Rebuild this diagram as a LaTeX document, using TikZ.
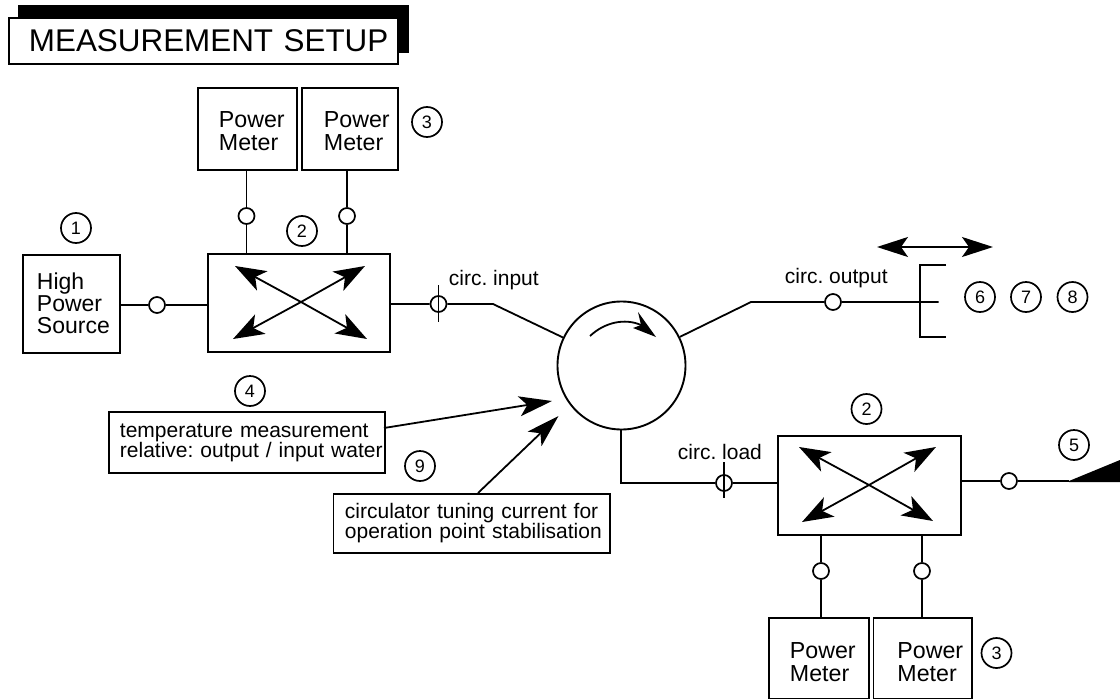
\documentclass[tikz,border=0pt]{standalone}
\usepackage{fontspec}
\setmainfont{Liberation Sans}
\usetikzlibrary{arrows.meta}
\frenchspacing
\tikzset{
  every path/.style={line width=1.8pt},
  mbox/.style={draw=black,line width=1.9pt,fill=white,inner sep=0pt,align=left,anchor=north west},
  pmbox/.style={mbox,font=\fontsize{23.2}{23}\selectfont},
  notebox/.style={mbox,font=\fontsize{21}{20}\selectfont},
  num/.style={circle,draw=black,line width=1.7pt,minimum size=30pt,inner sep=0pt,font=\fontsize{18}{18}\selectfont},
  port/.style={circle,draw=black,line width=1.7pt,fill=white,minimum size=16pt,inner sep=0pt},
  lbl/.style={inner sep=0pt,anchor=west,font=\fontsize{21}{20}\selectfont},
  big/.style={-{Stealth[length=31pt,width=22pt,inset=8pt]}},
  bigboth/.style={{Stealth[length=31pt,width=20pt,inset=7pt]}-{Stealth[length=31pt,width=20pt,inset=7pt]}},
  point/.style={-{Stealth[length=33pt,width=20pt,inset=8pt]}},
}
\newcommand{\pw}[2]{\hspace*{#1pt}\rule{0pt}{#2pt}Power\\\hspace*{#1pt}Meter}
\begin{document}
\begin{tikzpicture}[x=1pt,y=-1pt]
\useasboundingbox (0,0) rectangle (1120,699);
% title
\fill[black] (18,5) rectangle (409,53);
\node[mbox,minimum width=389pt,minimum height=46pt,font=\fontsize{31.4}{32}\selectfont,text width=389pt] (title) at (8,17) {\hspace*{20pt}MEASUREMENT SETUP};
% upper meters and coupler
\node[pmbox,minimum height=82pt,text width=99pt] (pm1) at (197,87) {\pw{21}{21}};
\node[pmbox,minimum height=82pt,text width=96pt] (pm2) at (301,87) {\pw{22}{21}};
\node[mbox,minimum height=98pt,text width=97pt,font=\fontsize{23}{22}\selectfont] (src) at (22,254) {\hspace*{14pt}High\\\hspace*{14pt}Power\\\hspace*{14pt}Source\rule[-2pt]{0pt}{2pt}};
\node[mbox,minimum width=182pt,minimum height=98pt] (cp1) at (207,253) {};
\node[port] (s0) at (157,305) {};
\node[port] (s1) at (246.5,216) {};
\node[port] (s2) at (347,216) {};
\node[port] (s3) at (438.5,304) {};
\node[num] (n1) at (76,228) {1};
\node[num] (n2a) at (302,231) {2};
\node[num] (n3a) at (427,122) {3};
% circulator
\node[circle,draw=black,line width=1.9pt,minimum size=128pt,inner sep=0pt] (circ) at (621.5,365.5) {};
\coordinate (ibend) at (493,304);
\coordinate (obend) at (751,302);
\coordinate (lbend) at (621,483);
\draw (src.east |- s0) -- (s0) -- (cp1.west |- s0);
\draw (pm1.south -| s1) -- (s1) -- (s1 |- cp1.north);
\draw (pm2.south -| s2) -- (s2) -- (s2 |- cp1.north);
\draw (cp1.east |- s3) -- (s3) -- (ibend) -- (circ);
\coordinate (t1a) at (438.5,285); \coordinate (t1b) at (438.5,322);
\draw[line width=1.4pt] (t1a) -- (t1b);
\node[lbl] (linput) at (448,280) {circ. input};
% coupler 1 arrows
\coordinate (c1) at (301,302);
\coordinate (a1) at (235,266); \coordinate (a2) at (365,266);
\coordinate (a3) at (233,339); \coordinate (a4) at (367,339);
\foreach \t in {a1,a2,a3,a4} \draw[big] (c1) -- (\t);
% circulator rotation arrow
\draw (590,336) .. controls (605,322) and (625,318) .. (641,325);
\fill[black] (656,337) -- (638,312) -- (641,325) -- (633,328) -- cycle;
% output
\node[port] (s4) at (833,302) {};
\coordinate (brk) at (920,302);
\coordinate (stub) at (938.5,302);
\draw (circ) -- (obend) -- (s4) -- (stub);
\coordinate (bt) at (946,265); \coordinate (bb) at (946,337);
\draw (bt) -- (brk |- bt) -- (brk |- bb) -- (bb);
\node[lbl] (loutput) at (784,278) {circ. output};
\coordinate (dl) at (877,247); \coordinate (dr) at (993,247);
\draw[bigboth] (dl) -- (dr);
\node[num] (n6) at (980,297) {6};
\node[num] (n7) at (1026,297) {7};
\node[num] (n8) at (1072.5,297) {8};
% lower coupler
\node[mbox,minimum width=183pt,minimum height=99pt] (cp2) at (777,435) {};
\node[port] (s5) at (724,483) {};
\node[port] (s6) at (1009,481) {};
\node[port] (s7) at (821,571) {};
\node[port] (s8) at (922,571) {};
\draw (circ.south -| lbend) -- (lbend) -- (s5) -- (cp2.west |- s5);
\coordinate (t2a) at (724,462); \coordinate (t2b) at (724,498);
\draw[line width=1.4pt] (t2a) -- (t2b);
\node[lbl] (lload) at (677,452) {circ. load};
\coordinate (c2) at (869,485);
\coordinate (b1) at (799,447); \coordinate (b2) at (936,447);
\coordinate (b3) at (802,522); \coordinate (b4) at (933,521);
\foreach \t in {b1,b2,b3,b4} \draw[big] (c2) -- (\t);
\coordinate (wstart) at (1069,481);
\draw (cp2.east |- s6) -- (s6) -- (wstart);
\fill[black] (wstart) -- (1120,460) -- (1120,482) -- (1069,482) -- cycle;
\node[num] (n2b) at (866.5,409) {2};
\node[num] (n5) at (1074,445) {5};
% lower meters
\node[pmbox,minimum height=81pt,text width=100pt] (pm3) at (768,617) {\pw{21}{24}};
\node[pmbox,minimum height=81pt,text width=98.5pt] (pm4) at (872.5,617) {\pw{24}{24}};
\draw (s7) -- (s7 |- cp2.south);
\draw (s8) -- (s8 |- cp2.south);
\draw (s7) -- (s7 |- pm3.north);
\draw (s8) -- (s8 |- pm4.north);
\node[num] (n3b) at (996.5,653) {3};
% notes
\node[notebox,minimum height=61pt,text width=276pt] (temp) at (108,411) {\hspace*{11pt}temperature measurement\\\hspace*{11pt}relative: output / input water};
\node[notebox,minimum height=59pt,text width=276.5pt] (tune) at (332.5,493) {\hspace*{11.5pt}circulator tuning current for\\\hspace*{11.5pt}operation point stabilisation};
\coordinate (tip1) at (552,401);
\coordinate (tip2) at (558.5,416);
\coordinate (from1) at (384,428);
\coordinate (from2) at (478,493);
\draw[point] (from1) -- (tip1);
\draw[point] (from2) -- (tip2);
\node[num] (n4) at (250,391) {4};
\node[num] (n9) at (420,466) {9};
\end{tikzpicture}
\end{document}
